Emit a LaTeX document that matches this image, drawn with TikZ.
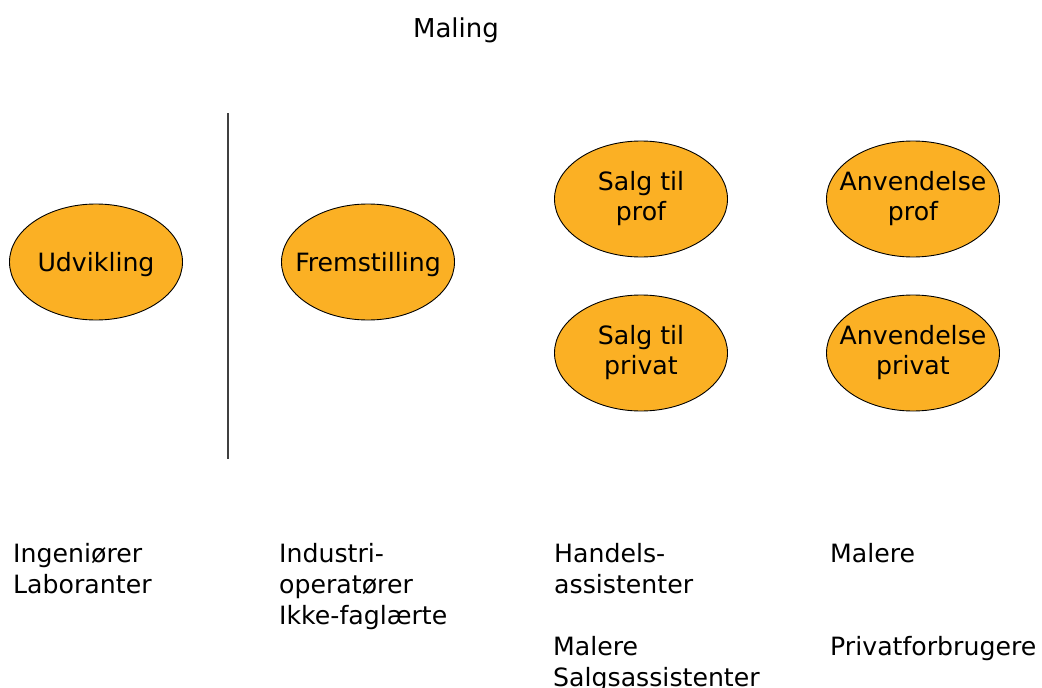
\documentclass[tikz,border=0pt]{standalone}
\usepackage{fontspec}
\setmainfont{DejaVu Sans}
\usetikzlibrary{shapes.geometric}
\definecolor{paint}{RGB}{251,176,36}
\begin{document}
\begin{tikzpicture}[x=1pt,y=-1pt,
  blob/.style={ellipse, draw=black, line width=0.9pt, fill=paint,
    minimum width=173pt, minimum height=116pt, inner xsep=-30pt, inner ysep=0pt,
    align=center, font=\fontsize{25.2}{30}\selectfont},
  lbl/.style={anchor=base west, inner sep=0pt, font=\fontsize{25.2}{31}\selectfont}]
\useasboundingbox (0,0) rectangle (1042,688);
\node[anchor=base, inner sep=0pt, font=\fontsize{26}{31}\selectfont] (title) at (456,37) {Maling};
\coordinate (lt) at (228,113);
\coordinate (lb) at (228,459);
\draw[line width=1.3pt, black!75] (lt) -- (lb);
\node[blob, text depth=0pt] (udv) at (96,262) {Udvikling};
\node[blob, text depth=0pt] (frem) at (368,262) {Fremstilling};
\node[blob] (sprof) at (641,199) {Salg til\\prof};
\node[blob] (aprof) at (913,199) {Anvendelse\\prof};
\node[blob] (spriv) at (641,353) {Salg til\\privat};
\node[blob] (apriv) at (913,353) {Anvendelse\\privat};
\node[lbl] (t1) at (13,562) {\begin{tabular}[t]{@{}l@{}}Ingeniører\\Laboranter\end{tabular}};
\node[lbl] (t2) at (279,562) {\begin{tabular}[t]{@{}l@{}}Industri-\\operatører\\Ikke-faglærte\end{tabular}};
\node[lbl] (t3) at (554,562) {\begin{tabular}[t]{@{}l@{}}Handels-\\assistenter\end{tabular}};
\node[lbl] (t4) at (553,655) {\begin{tabular}[t]{@{}l@{}}Malere\\Salgsassistenter\end{tabular}};
\node[lbl] (t5) at (830,562) {Malere};
\node[lbl] (t6) at (830,655) {Privatforbrugere};
\end{tikzpicture}
\end{document}
